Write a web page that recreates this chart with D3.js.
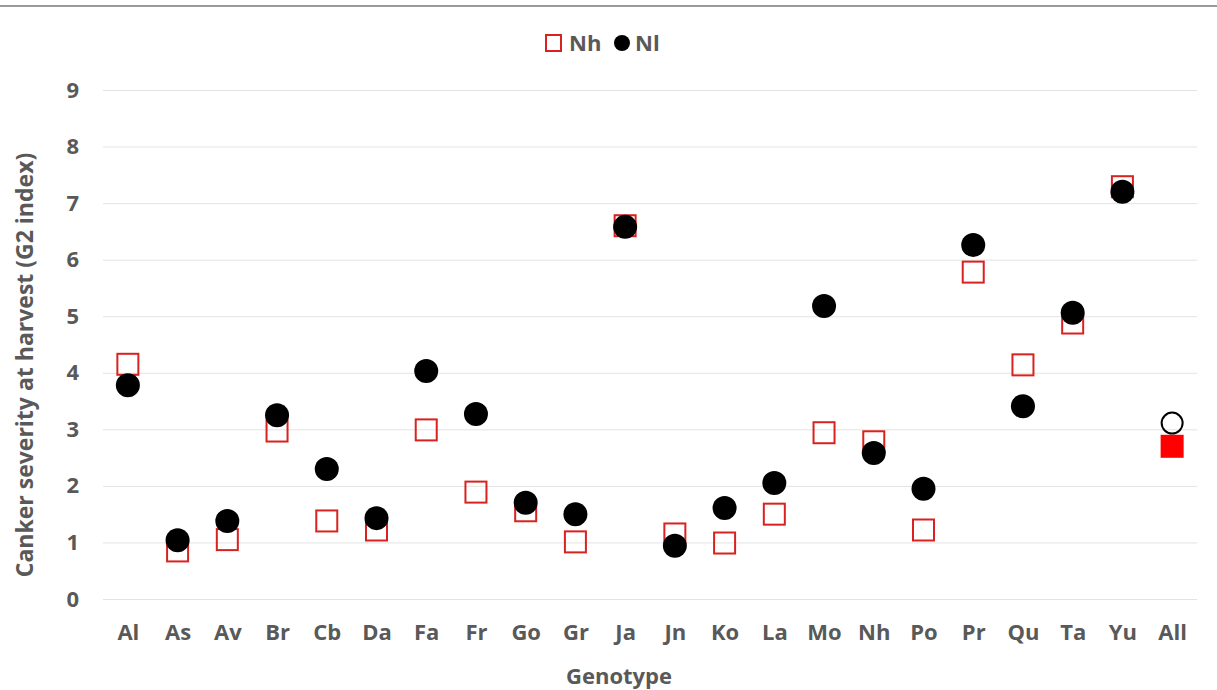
<!DOCTYPE html>
<html>
<head>
<meta charset="utf-8">
<script src="https://cdn.jsdelivr.net/npm/d3@7"></script>
<style>
  body { margin: 0; background: #fff; }
  svg { display: block; font-family: "Open Sans", sans-serif; }
</style>
</head>
<body>
<div id="chart"></div>
<script>
// genotypes along the x axis
const genotypes = ["Al", "As", "Av", "Br", "Cb", "Da", "Fa", "Fr", "Go", "Gr", "Ja",
  "Jn", "Ko", "La", "Mo", "Nh", "Po", "Pr", "Qu", "Ta", "Yu", "All"];
// Nh series (squares)
const nhValues = [4.15, 0.85, 1.05, 2.97, 1.38, 1.22, 2.99, 1.89, 1.56, 1.01, 6.6,
  1.15, 0.99, 1.5, 2.94, 2.78, 1.22, 5.78, 4.14, 4.88, 7.29, 2.7];
// Nl series (circles)
const nlValues = [3.78, 1.04, 1.38, 3.25, 2.3, 1.43, 4.03, 3.27, 1.7, 1.5, 6.58,
  0.94, 1.61, 2.05, 5.18, 2.58, 1.95, 6.26, 3.41, 5.06, 7.2, 3.11];
const yTicks = [0, 1, 2, 3, 4, 5, 6, 7, 8, 9];

const width = 1217, height = 690;
const margin = { top: 90, right: 20, bottom: 91, left: 103 };
const textColor = "#595959";

const svg = d3.select("#chart").append("svg")
  .attr("width", width)
  .attr("height", height);

// thin rule across the top
svg.append("line")
  .attr("x1", 0).attr("x2", width)
  .attr("y1", 6).attr("y2", 6)
  .attr("stroke", "#9a9a9a")
  .attr("stroke-width", 2);

const x = d3.scalePoint()
  .domain(genotypes)
  .range([margin.left, width - margin.right])
  .padding(0.5);

const y = d3.scaleLinear()
  .domain([0, 9])
  .range([height - margin.bottom, margin.top]);

function styleText(sel, size) {
  sel.attr("fill", textColor)
    .style("font-size", size + "px")
    .style("font-weight", "bold")
    .style("font-family", "'Open Sans', sans-serif");
}

// gridlines
const grid = svg.append("g")
  .attr("transform", "translate(" + margin.left + ",0)")
  .call(d3.axisLeft(y).tickValues(yTicks).tickSize(-(width - margin.right - margin.left)).tickFormat(""));
grid.select(".domain").remove();
grid.selectAll(".tick line").attr("stroke", "#e3e3e3").attr("stroke-width", 1);

// y axis labels
const yAxis = svg.append("g")
  .attr("transform", "translate(" + margin.left + ",0)")
  .call(d3.axisLeft(y).tickValues(yTicks).tickSize(0).tickPadding(24));
yAxis.select(".domain").remove();
styleText(yAxis.selectAll("text"), 22);

// x axis labels
const xAxis = svg.append("g")
  .attr("transform", "translate(0," + y(0) + ")")
  .call(d3.axisBottom(x).tickSize(0).tickPadding(25));
xAxis.select(".domain").remove();
styleText(xAxis.selectAll("text"), 22);

// axis titles
styleText(svg.append("text")
  .attr("x", 619)
  .attr("y", 684)
  .attr("text-anchor", "middle")
  .text("Genotype"), 22);

styleText(svg.append("text")
  .attr("transform", "translate(33," + 365 + ") rotate(-90)")
  .attr("text-anchor", "middle")
  .text("Canker severity at harvest (G2 index)"), 23);

const sq = 21;
const nhData = genotypes.map((g, i) => ({ g: g, v: nhValues[i] }));
const nlData = genotypes.map((g, i) => ({ g: g, v: nlValues[i] }));

// Nh squares
svg.append("g").selectAll("rect")
  .data(nhData)
  .enter()
  .append("rect")
  .attr("x", d => x(d.g) - sq / 2)
  .attr("y", d => y(d.v) - sq / 2)
  .attr("width", sq)
  .attr("height", sq)
  .attr("fill", d => d.g === "All" ? "#ff0000" : "none")
  .attr("stroke", d => d.g === "All" ? "#ff0000" : "#d9211f")
  .attr("stroke-width", 2);

// Nl circles
svg.append("g").selectAll("circle")
  .data(nlData)
  .enter()
  .append("circle")
  .attr("cx", d => x(d.g))
  .attr("cy", d => y(d.v))
  .attr("r", d => d.g === "All" ? 10.5 : 12)
  .attr("fill", d => d.g === "All" ? "none" : "#000")
  .attr("stroke", "#000")
  .attr("stroke-width", d => d.g === "All" ? 2 : 0);

// legend
const legend = svg.append("g");
legend.append("rect")
  .attr("x", 546).attr("y", 35)
  .attr("width", 15).attr("height", 16)
  .attr("fill", "none")
  .attr("stroke", "#d9211f")
  .attr("stroke-width", 2);
styleText(legend.append("text")
  .attr("x", 569).attr("y", 51)
  .text("Nh"), 22);
legend.append("circle")
  .attr("cx", 622).attr("cy", 43)
  .attr("r", 8)
  .attr("fill", "#000");
styleText(legend.append("text")
  .attr("x", 635).attr("y", 51)
  .text("Nl"), 22);
</script>
</body>
</html>
